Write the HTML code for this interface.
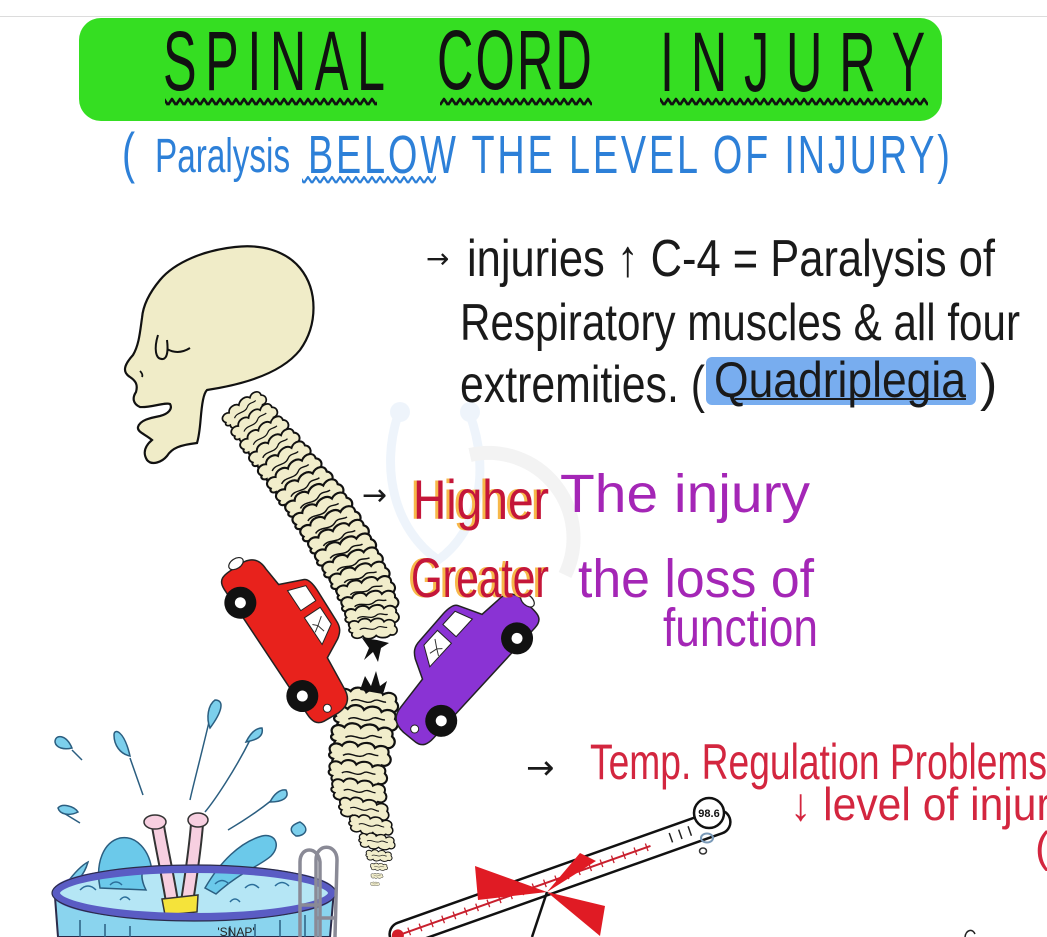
<!DOCTYPE html>
<html>
<head>
<meta charset="utf-8">
<style>
html,body{margin:0;padding:0;background:#fff;}
svg{display:block;}
.hw{font-family:"Liberation Sans Narrow","Liberation Sans","DejaVu Sans",sans-serif;}
</style>
</head>
<body>
<svg width="1047" height="937" viewBox="0 0 1047 937" xmlns="http://www.w3.org/2000/svg">
<defs>
  <pattern id="wz" patternUnits="userSpaceOnUse" x="0" y="96" width="8" height="12">
    <path d="M0,9 L4,3 L8,9" fill="none" stroke="#111" stroke-width="2.6" stroke-linejoin="round"/>
  </pattern>
  <pattern id="wzb" patternUnits="userSpaceOnUse" x="0" y="174" width="8" height="12">
    <path d="M0,9 L4,3 L8,9" fill="none" stroke="#2d80d8" stroke-width="2.2" stroke-linejoin="round"/>
  </pattern>
  <g id="vb">
    <path d="M-24,-2 C-28,-8 -20,-12 -15,-8 C-12,-13 -4,-12 -2,-8 C2,-12 10,-12 12,-7 C17,-11 25,-8 23,-2 C28,2 24,9 18,7 C14,11 6,10 3,7 C-1,11 -9,11 -11,7 C-16,11 -25,8 -22,3 C-26,2 -26,-1 -24,-2 Z" fill="#f1edcb" stroke="#111" stroke-width="1.8"/>
    <path d="M-14,0 C-8,-4 -2,3 4,-1 C8,-4 12,0 15,-1" fill="none" stroke="#111" stroke-width="1.2"/>
  </g>
  <g id="car">
    <path d="M-88,10 C-90,-8 -82,-14 -70,-14 L-50,-16 L-40,-40 C-38,-44 -32,-45 -24,-45 L12,-44 C20,-44 24,-41 28,-35 L38,-16 L74,-13 C86,-12 90,-4 90,6 L89,22 C88,30 82,32 74,32 L-76,32 C-87,32 -89,26 -88,10 Z" fill="currentColor" stroke="#222" stroke-width="1.5"/>
    <path d="M-34,-38 L-16,-38 L-16,-20 L-40,-20 Z" fill="#fff" stroke="#222" stroke-width="1"/>
    <path d="M-8,-38 L12,-38 L24,-19 L-8,-19 Z" fill="#fff" stroke="#222" stroke-width="1"/>
    <path d="M0,-34 L6,-26 L2,-22 M6,-26 L14,-28 M6,-26 L10,-20" fill="none" stroke="#333" stroke-width="1"/>
    <ellipse cx="-91" cy="8" rx="5" ry="8" fill="#fff" stroke="#222" stroke-width="1.2"/>
    <circle cx="80" cy="12" r="4" fill="#fff" stroke="#222" stroke-width="1"/>
    <circle cx="-56" cy="26" r="16" fill="#111"/>
    <circle cx="-56" cy="26" r="5.5" fill="#fff"/>
    <circle cx="56" cy="26" r="16" fill="#111"/>
    <circle cx="56" cy="26" r="5.5" fill="#fff"/>
  </g>
</defs>

<rect width="1047" height="937" fill="#fff"/>
<line x1="0" y1="16.5" x2="1047" y2="16.5" stroke="#dcdcdc" stroke-width="1"/>

<!-- green banner -->
<rect x="79" y="18" width="863" height="103" rx="22" fill="#35de22"/>
<g class="hw" fill="#111" font-size="84" font-family="Liberation Sans, sans-serif">
  <g transform="translate(163,90) scale(0.6,1)"><text x="0" y="0" textLength="370" lengthAdjust="spacing" font-family="Liberation Sans, sans-serif">SPINAL</text></g>
  <g transform="translate(437,89) scale(0.6,1)"><text x="0" y="0" textLength="258" lengthAdjust="spacing" font-family="Liberation Sans, sans-serif">CORD</text></g>
  <g transform="translate(660,91) scale(0.6,1)"><text x="0" y="0" textLength="442" lengthAdjust="spacing" font-family="Liberation Sans, sans-serif">INJURY</text></g>
</g>
<rect x="165" y="96" width="212" height="12" fill="url(#wz)"/>
<rect x="440" y="96" width="152" height="12" fill="url(#wz)"/>
<rect x="660" y="96" width="268" height="12" fill="url(#wz)"/>

<!-- subtitle -->
<g fill="#2d80d8" font-family="Liberation Sans, sans-serif">
  <g transform="translate(122,172) scale(0.7,1)"><text x="0" y="0" font-size="56">(</text></g>
  <g transform="translate(155,172) scale(0.7,1)"><text x="0" y="0" font-size="48" textLength="193" lengthAdjust="spacingAndGlyphs">Paralysis</text></g>
  <g transform="translate(308,173) scale(0.7,1)"><text x="0" y="0" font-size="54" textLength="917" lengthAdjust="spacing">BELOW THE LEVEL OF INJURY)</text></g>
</g>
<rect x="302" y="174" width="134" height="12" fill="url(#wzb)"/>

<!-- faint watermark -->
<g opacity="0.4" fill="none">
  <path d="M398,415 C380,470 395,530 438,560 C480,530 490,470 470,415" stroke="#d6e6f6" stroke-width="9"/>
  <circle cx="400" cy="412" r="10" fill="#d6e6f6"/>
  <circle cx="470" cy="412" r="10" fill="#d6e6f6"/>
  <path d="M470,455 A85,85 0 0 1 565,575" stroke="#e2e2e2" stroke-width="14"/>
</g>

<!-- upper spine -->
<g>
  <use href="#vb" transform="translate(245,410) rotate(-38) scale(0.95)"/>
  <use href="#vb" transform="translate(255,423) rotate(-38) scale(1)"/>
  <use href="#vb" transform="translate(265,436) rotate(-37) scale(1.04)"/>
  <use href="#vb" transform="translate(275,449) rotate(-36) scale(1.08)"/>
  <use href="#vb" transform="translate(285,462) rotate(-35) scale(1.12)"/>
  <use href="#vb" transform="translate(295,475) rotate(-34) scale(1.15)"/>
  <use href="#vb" transform="translate(305,488) rotate(-32) scale(1.18)"/>
  <use href="#vb" transform="translate(315,500) rotate(-30) scale(1.2)"/>
  <use href="#vb" transform="translate(323,513) rotate(-28) scale(1.22)"/>
  <use href="#vb" transform="translate(331,526) rotate(-26) scale(1.22)"/>
  <use href="#vb" transform="translate(339,539) rotate(-24) scale(1.22)"/>
  <use href="#vb" transform="translate(346,552) rotate(-22) scale(1.22)"/>
  <use href="#vb" transform="translate(353,565) rotate(-20) scale(1.2)"/>
  <use href="#vb" transform="translate(360,578) rotate(-17) scale(1.18)"/>
  <use href="#vb" transform="translate(366,591) rotate(-14) scale(1.15)"/>
  <use href="#vb" transform="translate(370,604) rotate(-10) scale(1.12)"/>
  <use href="#vb" transform="translate(372,617) rotate(-6) scale(1.06)"/>
  <use href="#vb" transform="translate(373,629) rotate(-3) scale(0.95)"/>
</g>
<path d="M362,638 L369,648 L364,660 L373,652 L378,662 L381,648 L389,643 L377,640 Z" fill="#111"/>

<!-- skull -->
<path d="M207,390 C240,385 280,375 300,350 C318,325 318,290 300,268 C285,250 260,244 235,247 C205,250 175,262 160,280 C150,292 143,305 142,318 C140,332 139,345 133,355 C124,365 122,372 130,377 C136,381 138,385 136,392 C132,398 133,404 140,407 C150,408 165,402 170,404 C173,409 168,414 160,416 C150,418 140,420 138,427 C137,432 145,434 152,440 C146,445 142,452 147,460 C152,466 162,462 167,456 C172,448 180,445 197,443 C201,430 200,415 203,400 C204,395 205,392 207,390 Z" fill="#f0ecc8" stroke="#111" stroke-width="2.2"/>
<path d="M158,335 C154,348 155,360 163,359 C168,358 168,348 167,340 M167,349 C174,353 182,353 190,348" fill="none" stroke="#111" stroke-width="2"/>
<path d="M140,371 C142,373 143,375 142,377" fill="none" stroke="#111" stroke-width="1.8"/>

<!-- lower spine -->
<g>
  <use href="#vb" transform="translate(368,702) rotate(4) scale(1.2)"/>
  <use href="#vb" transform="translate(366,720) rotate(3) scale(1.26)"/>
  <use href="#vb" transform="translate(363,738) rotate(2) scale(1.26)"/>
  <use href="#vb" transform="translate(360,756) rotate(2) scale(1.22)"/>
  <use href="#vb" transform="translate(358,774) rotate(4) scale(1.16)"/>
  <use href="#vb" transform="translate(359,792) rotate(6) scale(1.1)"/>
  <use href="#vb" transform="translate(364,810) rotate(8) scale(1.0)"/>
  <use href="#vb" transform="translate(371,826) rotate(8) scale(0.88)"/>
  <use href="#vb" transform="translate(377,842) rotate(6) scale(0.72)"/>
  <use href="#vb" transform="translate(379,856) rotate(4) scale(0.52)"/>
  <use href="#vb" transform="translate(379,867) rotate(2) scale(0.34)"/>
  <use href="#vb" transform="translate(377,876) scale(0.24)"/>
  <use href="#vb" transform="translate(375,884) scale(0.18)"/>
</g>
<path d="M360,690 L365,676 L371,686 L376,671 L380,686 L387,681 L383,694 Z" fill="#111"/>

<!-- cars -->
<use href="#car" style="color:#e8221c" transform="translate(293,635) rotate(56.4)"/>
<use href="#car" style="color:#8a33d4" transform="translate(460,662) rotate(-47.4) scale(-1,1)"/>

<!-- black text block -->
<g class="hw" fill="#1a1a1a">
  <text x="426" y="268" font-size="28" font-family="DejaVu Sans, sans-serif">→</text>
  <text x="467" y="276" font-size="52" textLength="528" lengthAdjust="spacingAndGlyphs">injuries ↑ C-4 = Paralysis of</text>
  <text x="460" y="340" font-size="52" textLength="560" lengthAdjust="spacingAndGlyphs">Respiratory muscles &amp; all four</text>
  <text x="460" y="402" font-size="52" textLength="245" lengthAdjust="spacingAndGlyphs">extremities. (</text>
</g>
<rect x="706" y="357" width="270" height="48" rx="6" fill="#78adef"/>
<g class="hw" fill="#1a1a1a">
  <text x="714" y="397" font-size="50" textLength="252" lengthAdjust="spacingAndGlyphs">Quadriplegia</text>
  <text x="980" y="400" font-size="52">)</text>
</g>
<path d="M735,399 L966,399" stroke="#1a1a1a" stroke-width="2"/>

<!-- Higher / Greater -->
<text x="362" y="505" font-size="30" font-family="DejaVu Sans, sans-serif" fill="#1a1a1a">→</text>
<g class="hw" font-size="56">
  <text x="410" y="519" textLength="136" lengthAdjust="spacingAndGlyphs" fill="#f7b84a">Higher</text>
  <text x="413" y="519" textLength="136" lengthAdjust="spacingAndGlyphs" fill="#c4163a">Higher</text>
  <text x="408" y="597" textLength="138" lengthAdjust="spacingAndGlyphs" fill="#f7b84a">Greater</text>
  <text x="411" y="597" textLength="138" lengthAdjust="spacingAndGlyphs" fill="#c4163a">Greater</text>
</g>
<g class="hw" fill="#a426b6" font-size="54">
  <text x="560" y="512" textLength="250" lengthAdjust="spacingAndGlyphs">The injury</text>
  <text x="578" y="597" textLength="236" lengthAdjust="spacingAndGlyphs">the loss of</text>
  <text x="663" y="646" textLength="155" lengthAdjust="spacingAndGlyphs">function</text>
</g>

<!-- Temp regulation -->
<text x="526" y="779" font-size="34" font-family="DejaVu Sans, sans-serif" fill="#1a1a1a">→</text>
<g class="hw" fill="#d3263f">
  <text x="590" y="779" font-size="50" textLength="457" lengthAdjust="spacingAndGlyphs">Temp. Regulation  Problems</text>
  <text x="790" y="820" font-size="46" textLength="282" lengthAdjust="spacingAndGlyphs">↓ level of injury</text>
  <text x="1035" y="862" font-size="44">(</text>
</g>
<path d="M965,937 C966,930 972,928 975,934" fill="none" stroke="#222" stroke-width="1.5"/>

<!-- thermometer -->
<g transform="translate(560,878) rotate(-19.5)">
  <rect x="-180" y="-12" width="360" height="24" rx="12" fill="#fff" stroke="#111" stroke-width="2.5"/>
  <line x1="-172" y1="0" x2="96" y2="0" stroke="#c8202e" stroke-width="2"/>
  <path d="M-160,-4 V4 M-148,-4 V4 M-136,-4 V4 M-124,-4 V4 M-112,-4 V4 M-100,-4 V4 M-88,-4 V4 M-76,-4 V4 M-64,-4 V4 M-52,-4 V4 M-40,-4 V4 M-28,-4 V4 M-16,-4 V4 M-4,-4 V4 M8,-4 V4 M20,-4 V4 M32,-4 V4 M44,-4 V4 M56,-4 V4 M68,-4 V4 M80,-4 V4 M92,-4 V4" stroke="#c8202e" stroke-width="1.3"/>
  <path d="M118,-6 V4 M128,-6 V4 M138,-6 V4" stroke="#222" stroke-width="1.5"/>
  <circle cx="-172" cy="0" r="6" fill="#d41e2a"/>
</g>
<!-- red X -->
<path d="M475,866 L547,892 L478,900 Z" fill="#e01b24"/>
<path d="M547,892 L605,906 L600,936 Z" fill="#e01b24"/>
<path d="M580,853 L596,861 L547,892 Z" fill="#e01b24"/>
<path d="M547,892 L532,937" stroke="#111" stroke-width="2.5"/>
<!-- 98.6 bubble -->
<circle cx="709" cy="813" r="15" fill="#fff" stroke="#111" stroke-width="2.5"/>
<text x="709" y="817" font-size="11" font-weight="bold" text-anchor="middle" font-family="Liberation Sans, sans-serif" fill="#111">98.6</text>
<ellipse cx="707" cy="838" rx="6" ry="4.5" fill="none" stroke="#7a9ab8" stroke-width="2"/>
<ellipse cx="703" cy="851" rx="3.5" ry="3" fill="none" stroke="#333" stroke-width="1.5"/>

<!-- pool scene -->
<g stroke="#2b5e80" stroke-width="1.5" fill="none">
  <path d="M72,750 L82,760 M130,758 L143,795 M209,722 C200,760 192,790 190,800 M250,740 C235,770 215,800 205,812 M272,800 C262,808 245,820 228,830 M62,812 L80,823"/>
</g>
<g fill="#7ccfec" stroke="#2b5e80" stroke-width="1.5">
  <path d="M55,742 C55,734 66,734 72,748 C64,750 56,748 55,742 Z"/>
  <path d="M114,735 C114,728 124,730 130,756 C120,754 114,745 114,735 Z"/>
  <path d="M215,700 C225,700 222,712 210,728 C206,718 208,705 215,700 Z"/>
  <path d="M262,728 C264,737 256,740 246,742 C250,734 255,728 262,728 Z"/>
  <path d="M286,790 C290,798 282,802 270,802 C274,794 280,789 286,790 Z"/>
  <path d="M300,822 C310,828 306,836 296,836 C290,832 288,826 300,822 Z"/>
  <path d="M58,808 C62,803 74,806 78,812 C70,816 60,815 58,808 Z"/>
  <path d="M88,862 C80,866 72,876 66,884 C76,884 84,876 88,862 Z"/>
</g>
<!-- pool body -->
<path d="M55,897 L58,937 L330,937 L334,890 Z" fill="#8ad4ee" stroke="#2b2b4a" stroke-width="2"/>
<path d="M80,920 V937 M105,924 V937 M130,926 V937 M230,926 V937 M255,924 V937 M280,920 V937 M305,915 V937" stroke="#2b5e80" stroke-width="1.5"/>
<ellipse cx="194" cy="893" rx="138" ry="24" fill="#b5e6f5"/>
<!-- splashes -->
<path d="M100,888 C95,862 104,842 120,838 C136,835 150,850 152,872 C143,864 138,874 146,890 Z" fill="#6bc9ea" stroke="#2b5e80" stroke-width="1.5"/>
<path d="M205,888 C220,862 240,842 262,836 C276,833 281,846 271,856 C260,866 240,872 216,894 Z" fill="#6bc9ea" stroke="#2b5e80" stroke-width="1.5"/>
<!-- legs -->
<path d="M158,826 C162,850 168,876 172,902" fill="none" stroke="#333" stroke-width="14" stroke-linecap="round"/>
<path d="M158,826 C162,850 168,876 172,902" fill="none" stroke="#f7cfe0" stroke-width="10" stroke-linecap="round"/>
<path d="M197,824 C195,850 191,876 187,902" fill="none" stroke="#333" stroke-width="14" stroke-linecap="round"/>
<path d="M197,824 C195,850 191,876 187,902" fill="none" stroke="#f7cfe0" stroke-width="10" stroke-linecap="round"/>
<ellipse cx="155" cy="822" rx="11" ry="7" fill="#f7cfe0" stroke="#333" stroke-width="1.5"/>
<ellipse cx="198" cy="820" rx="10" ry="7" fill="#f7cfe0" stroke="#333" stroke-width="1.5"/>
<path d="M162,899 L198,895 L197,912 L165,915 Z" fill="#f5e33a" stroke="#333" stroke-width="1.5"/>
<!-- water waves -->
<path d="M80,890 q8,-8 16,0 M110,885 q6,-6 12,0 M215,884 q7,-7 14,0 M245,888 q7,-7 14,0 M275,886 q7,-7 14,0 M120,900 q5,-6 10,0 M230,902 q5,-6 10,0" fill="none" stroke="#2b6e9a" stroke-width="1.5"/>
<!-- rim -->
<ellipse cx="194" cy="893" rx="138" ry="24" fill="none" stroke="#5a5cc4" stroke-width="8"/>
<ellipse cx="194" cy="893" rx="142" ry="28" fill="none" stroke="#2b2b4a" stroke-width="1.2"/>
<!-- ladder -->
<path d="M300,937 L300,862 C300,846 318,846 320,862 L320,937 M316,937 L316,860 C316,843 337,843 337,860 L335,937 M300,905 H320 M316,918 H335" fill="none" stroke="#8a8a96" stroke-width="3.5"/>
<text x="236" y="936" font-size="12" text-anchor="middle" font-family="Liberation Sans, sans-serif" fill="#222">'SNAP'</text>
</svg>
</body>
</html>
